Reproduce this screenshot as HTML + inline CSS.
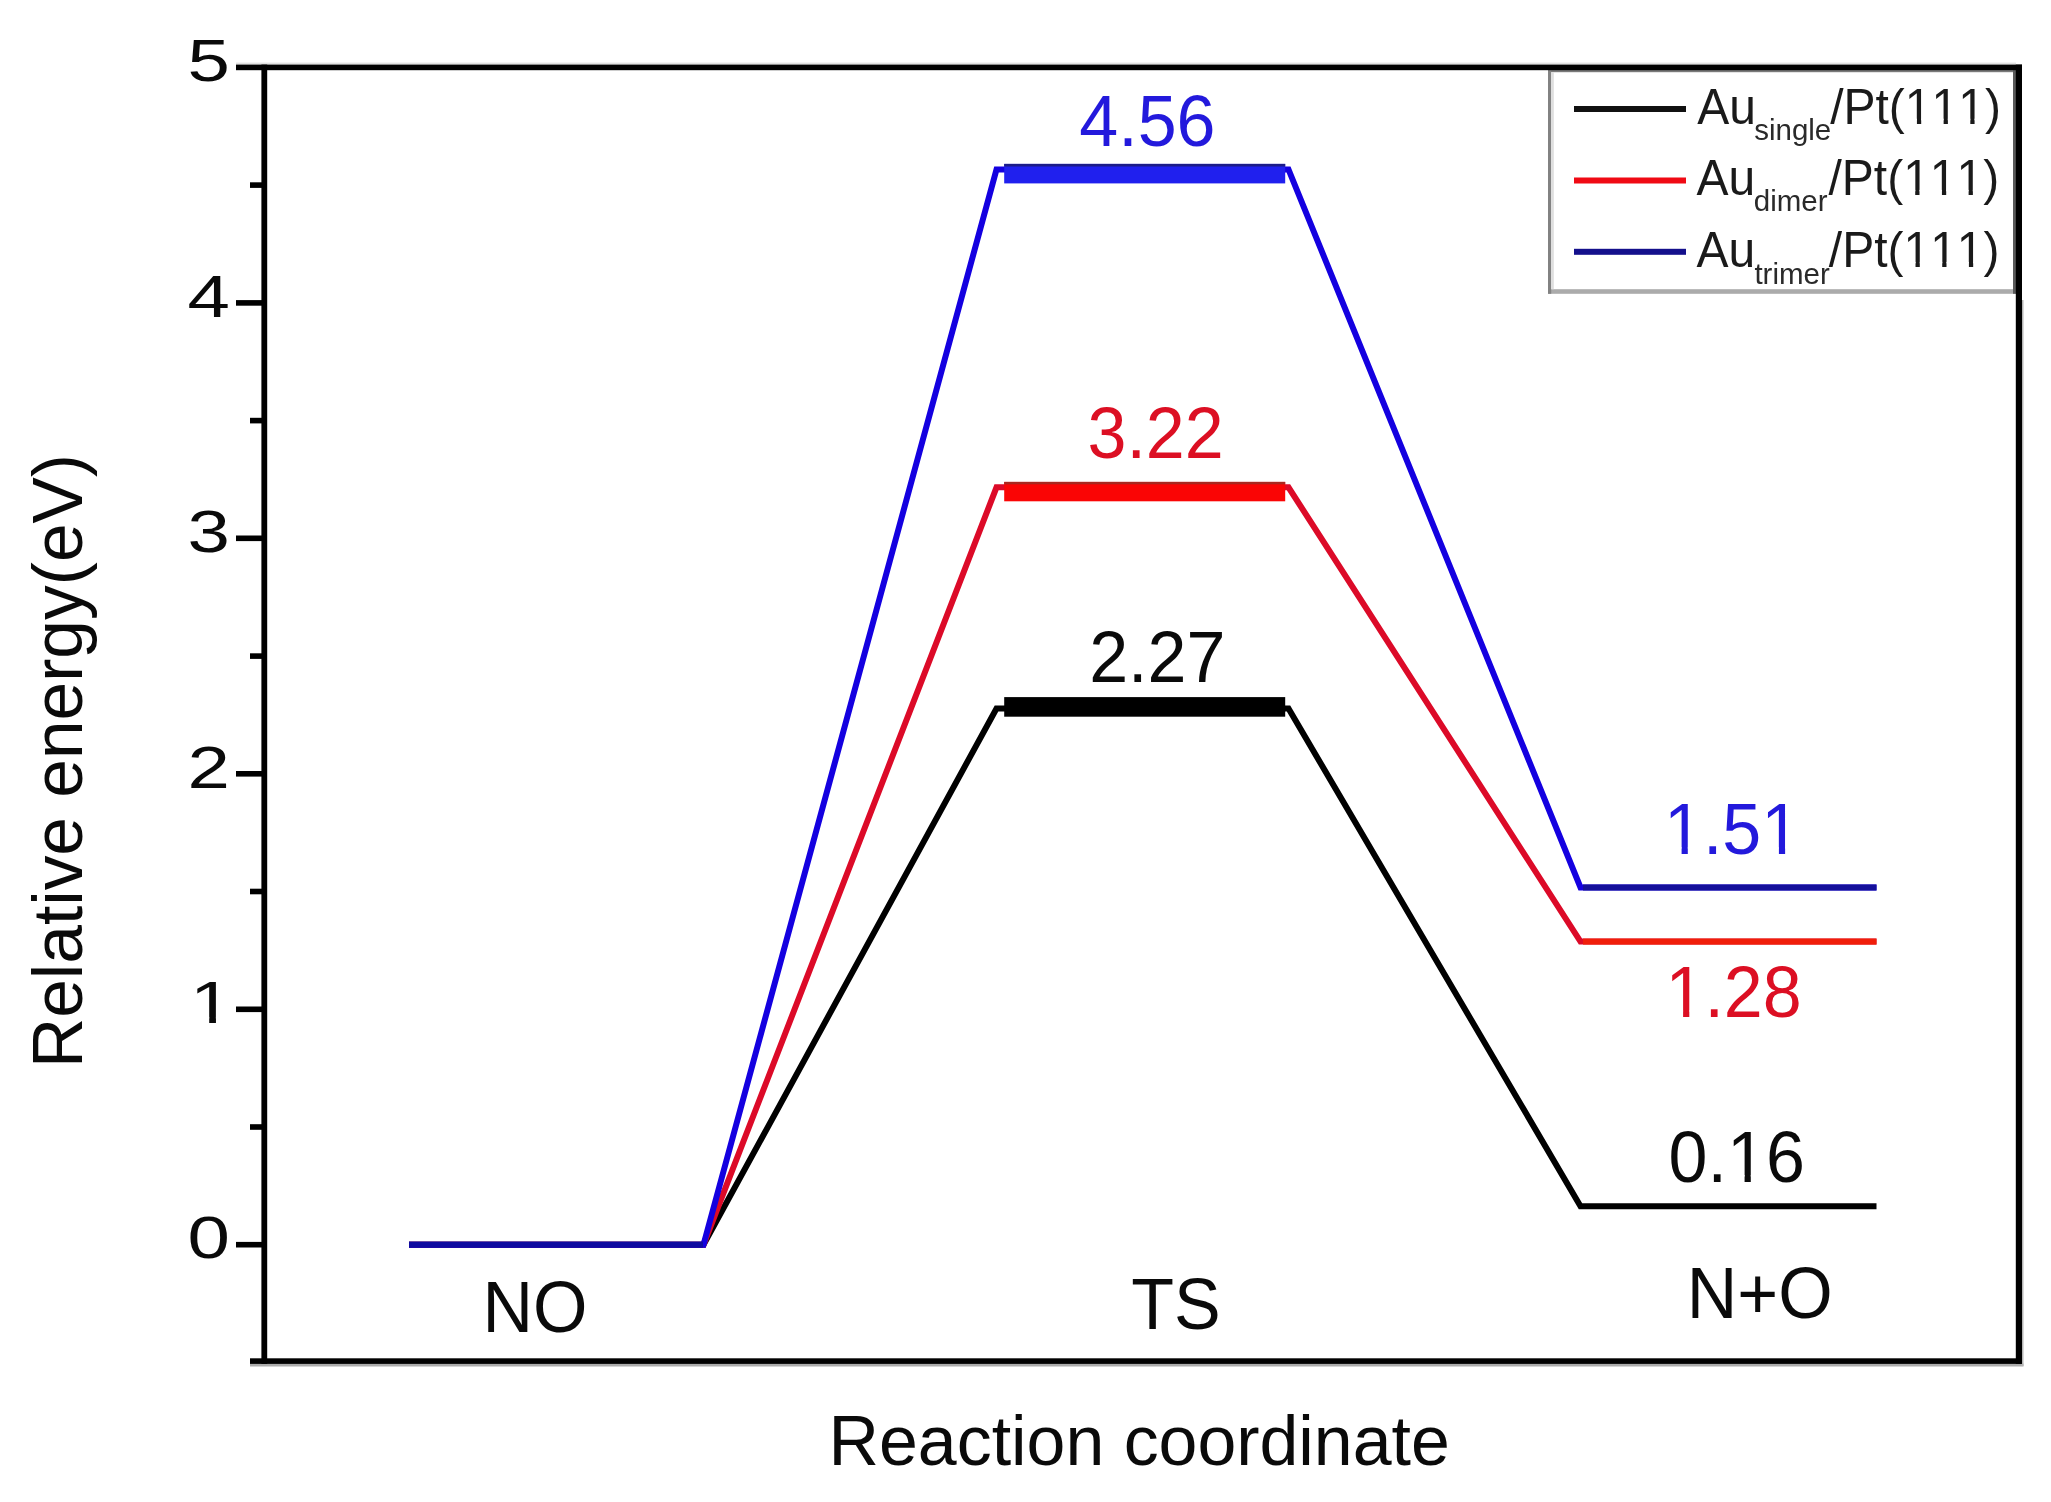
<!DOCTYPE html>
<html lang="en">
<head>
<meta charset="utf-8">
<title>Relative energy vs reaction coordinate</title>
<style>
  html, body { margin: 0; padding: 0; background: #ffffff; }
  body { width: 2051px; height: 1502px; overflow: hidden; }
  svg { display: block; filter: blur(0.75px); }
  text { font-family: "Liberation Sans", sans-serif; font-kerning: none; font-feature-settings: "kern" 0, "liga" 0; }
  .t70 { font-size: 70px; }
  .tick { font-size: 60px; fill: #0a0a0a; }
  .leg { font-size: 48px; fill: #1a1a1a; }
  .sub { font-size: 29.5px; fill: #2a2a2a; }
</style>
</head>
<body>
<svg width="2051" height="1502" viewBox="0 0 2051 1502">
  <rect x="0" y="0" width="2051" height="1502" fill="#ffffff"/>
  <defs>
    <!-- white masks hiding the foot serif of the digit one so it reads like the reference face -->
    <g id="c70" fill="#ffffff">
      <rect x="4.0" y="-6.7" width="13.6" height="8"/>
      <rect x="23.8" y="-6.7" width="13" height="8"/>
    </g>
    <g id="c48" fill="#ffffff">
      <rect x="2.6" y="-4.9" width="9.45" height="6"/>
      <rect x="16.32" y="-4.9" width="9" height="6"/>
    </g>
  </defs>

  <!-- legend -->
  <g id="legend">
    <rect x="1548" y="70" width="468" height="223.8" fill="#ffffff"/>
    <rect x="1548" y="70" width="468" height="2.2" fill="#7a7a7a"/>
    <rect x="1548" y="289.2" width="468" height="4.6" fill="#ababab"/>
    <rect x="1548" y="70" width="3.2" height="223.8" fill="#828282"/>
    <rect x="1551.2" y="72.2" width="2.6" height="217" fill="#dedede"/>
    <rect x="2013" y="70" width="3" height="223.8" fill="#5a5a5a"/>
    <rect x="1574" y="106" width="112" height="6" fill="#111111"/>
    <rect x="1574" y="177.5" width="112" height="6" fill="#f00a14"/>
    <rect x="1574" y="248.8" width="112" height="6" fill="#14108c"/>
    <text class="leg" transform="translate(1697.3,123.6) scale(1,1.04)">Au</text>
    <text class="sub" transform="translate(1754.2,140.2)">single</text>
    <text class="leg" transform="translate(1830.2,123.6) scale(1,1.04)">/Pt(111)</text>
    <text class="leg" transform="translate(1696.4,194.8) scale(1,1.04)">Au</text>
    <text class="sub" transform="translate(1753.8,211)">dimer</text>
    <text class="leg" transform="translate(1828.5,194.8) scale(1,1.04)">/Pt(111)</text>
    <text class="leg" transform="translate(1696.4,266.8) scale(1,1.04)">Au</text>
    <text class="sub" transform="translate(1754.4,284)">trimer</text>
    <text class="leg" transform="translate(1828.8,266.8) scale(1,1.04)">/Pt(111)</text>
    <use href="#c48" x="1904.87" y="123.6"/>
    <use href="#c48" x="1931.57" y="123.6"/>
    <use href="#c48" x="1958.26" y="123.6"/>
    <use href="#c48" x="1903.17" y="194.8"/>
    <use href="#c48" x="1929.87" y="194.8"/>
    <use href="#c48" x="1956.56" y="194.8"/>
    <use href="#c48" x="1903.47" y="266.8"/>
    <use href="#c48" x="1930.17" y="266.8"/>
    <use href="#c48" x="1956.86" y="266.8"/>
  </g>

  <!-- faint shadows under axes -->
  <rect x="250" y="1363.5" width="1773.5" height="3" fill="#ababab"/>
  <rect x="2021.5" y="300" width="2" height="1066" fill="#b5b5b5"/>
  <rect x="236" y="62.6" width="1780" height="2" fill="#e2e2e2"/>

  <!-- plot frame -->
  <g id="axes" fill="#000000">
    <rect x="236" y="64.6" width="1786" height="5.6"/>      <!-- top + tick 5 -->
    <rect x="250" y="1358.3" width="1772" height="5.6"/>    <!-- bottom + minor tick -->
    <rect x="261.4" y="64.6" width="5.8" height="1299.3"/>  <!-- left -->
    <rect x="2015.8" y="64.6" width="6.2" height="1299.3"/> <!-- right -->
  </g>

  <!-- y ticks -->
  <g id="yticks" fill="#000000">
    <rect x="236" y="300.1" width="27" height="5.6"/>
    <rect x="236" y="535.5" width="27" height="5.6"/>
    <rect x="236" y="771.0" width="27" height="5.6"/>
    <rect x="236" y="1006.5" width="27" height="5.6"/>
    <rect x="236" y="1241.9" width="27" height="5.6"/>
    <rect x="250" y="182.3" width="13" height="5.6"/>
    <rect x="250" y="417.8" width="13" height="5.6"/>
    <rect x="250" y="653.3" width="13" height="5.6"/>
    <rect x="250" y="888.7" width="13" height="5.6"/>
    <rect x="250" y="1124.2" width="13" height="5.6"/>
  </g>

  <!-- y tick labels (horizontally stretched) -->
  <g id="ylabels" class="tick" text-anchor="end">
    <text transform="translate(230,81) scale(1.27,1)">5</text>
    <text transform="translate(230,316.5) scale(1.27,1)">4</text>
    <text transform="translate(230,552) scale(1.27,1)">3</text>
    <text transform="translate(230,788) scale(1.27,1)">2</text>
    <text transform="translate(232.4,1022.7) scale(1.27,1)">1</text>
    <g fill="#ffffff"><rect x="194" y="1016.9" width="15.2" height="7"/><rect x="215.95" y="1016.9" width="14" height="7"/></g>
    <text transform="translate(230,1258) scale(1.27,1)">0</text>
  </g>

  <!-- axis titles -->
  <text class="t70" fill="#0a0a0a" transform="translate(82.4,1068) rotate(-90)" textLength="614" lengthAdjust="spacingAndGlyphs">Relative energy(eV)</text>
  <text class="t70" fill="#0a0a0a" x="828.6" y="1465.3" textLength="621.2" lengthAdjust="spacingAndGlyphs">Reaction coordinate</text>

  <!-- data lines -->
  <g id="series" fill="none" stroke-width="6" stroke-linejoin="miter">
    <polyline stroke="#000000" points="409,1244.7 703.5,1244.7 996.5,708.5 1288.5,708.5 1580.5,1206.2 1876.5,1206.2"/>
    <polyline stroke="#dc0a28" points="409,1244.7 703.5,1244.7 996.5,487.3 1288.5,487.3 1580.5,941.6 1876.5,941.6"/>
    <polyline stroke="#1400e0" points="409,1244.7 703.5,1244.7 996.5,169.4 1288.5,169.4 1580.5,887.5 1876.5,887.5"/>
  </g>
  <!-- horizontal level overlays -->
  <g id="levels">
    <rect x="409" y="1241.7" width="294" height="6" fill="#0f0aa0"/>
    <rect x="1583" y="884.5" width="293.5" height="6" fill="#14109a"/>
    <rect x="1583" y="938.6" width="293.5" height="6" fill="#f01e0a"/>
    <rect x="1004.2" y="697.1" width="281" height="19.6" fill="#000000"/>
    <rect x="1004.2" y="481.9" width="281" height="19.4" fill="#fa0505"/>
    <rect x="1004.2" y="481.9" width="281" height="2.4" fill="#a82820"/>
    <rect x="1004.2" y="163.9" width="281" height="19.5" fill="#2020ee"/>
    <rect x="1004.2" y="163.9" width="281" height="2.6" fill="#1c1c88"/>
  </g>

  <!-- value labels -->
  <g id="values" class="t70">
    <text transform="translate(1079.3,146.4) scale(1,1.02)" fill="#2319dc">4.56</text>
    <text transform="translate(1087.5,457.5) scale(1,1.02)" fill="#dc0f23">3.22</text>
    <text transform="translate(1089.2,681.9) scale(1,1.02)" fill="#0a0a0a">2.27</text>
    <text transform="translate(1664,854) scale(1,1.02)" fill="#2319dc">1.51</text>
    <text transform="translate(1665.5,1017.2) scale(1,1.02)" fill="#dc0f23">1.28</text>
    <text transform="translate(1668.6,1181.7) scale(1,1.02)" fill="#0a0a0a">0.16</text>
    <use href="#c70" x="1664.00" y="854"/>
    <use href="#c70" x="1761.31" y="854"/>
    <use href="#c70" x="1665.50" y="1017.2"/>
    <use href="#c70" x="1726.98" y="1181.7"/>
  </g>

  <!-- state labels -->
  <g id="states" class="t70" fill="#0a0a0a">
    <text transform="translate(482.5,1332.4) scale(1,1.02)">NO</text>
    <text transform="translate(1131.2,1328.6) scale(1,1.02)">TS</text>
    <text transform="translate(1686.8,1318.4) scale(1,1.02)">N+O</text>
  </g>

</svg>
</body>
</html>
